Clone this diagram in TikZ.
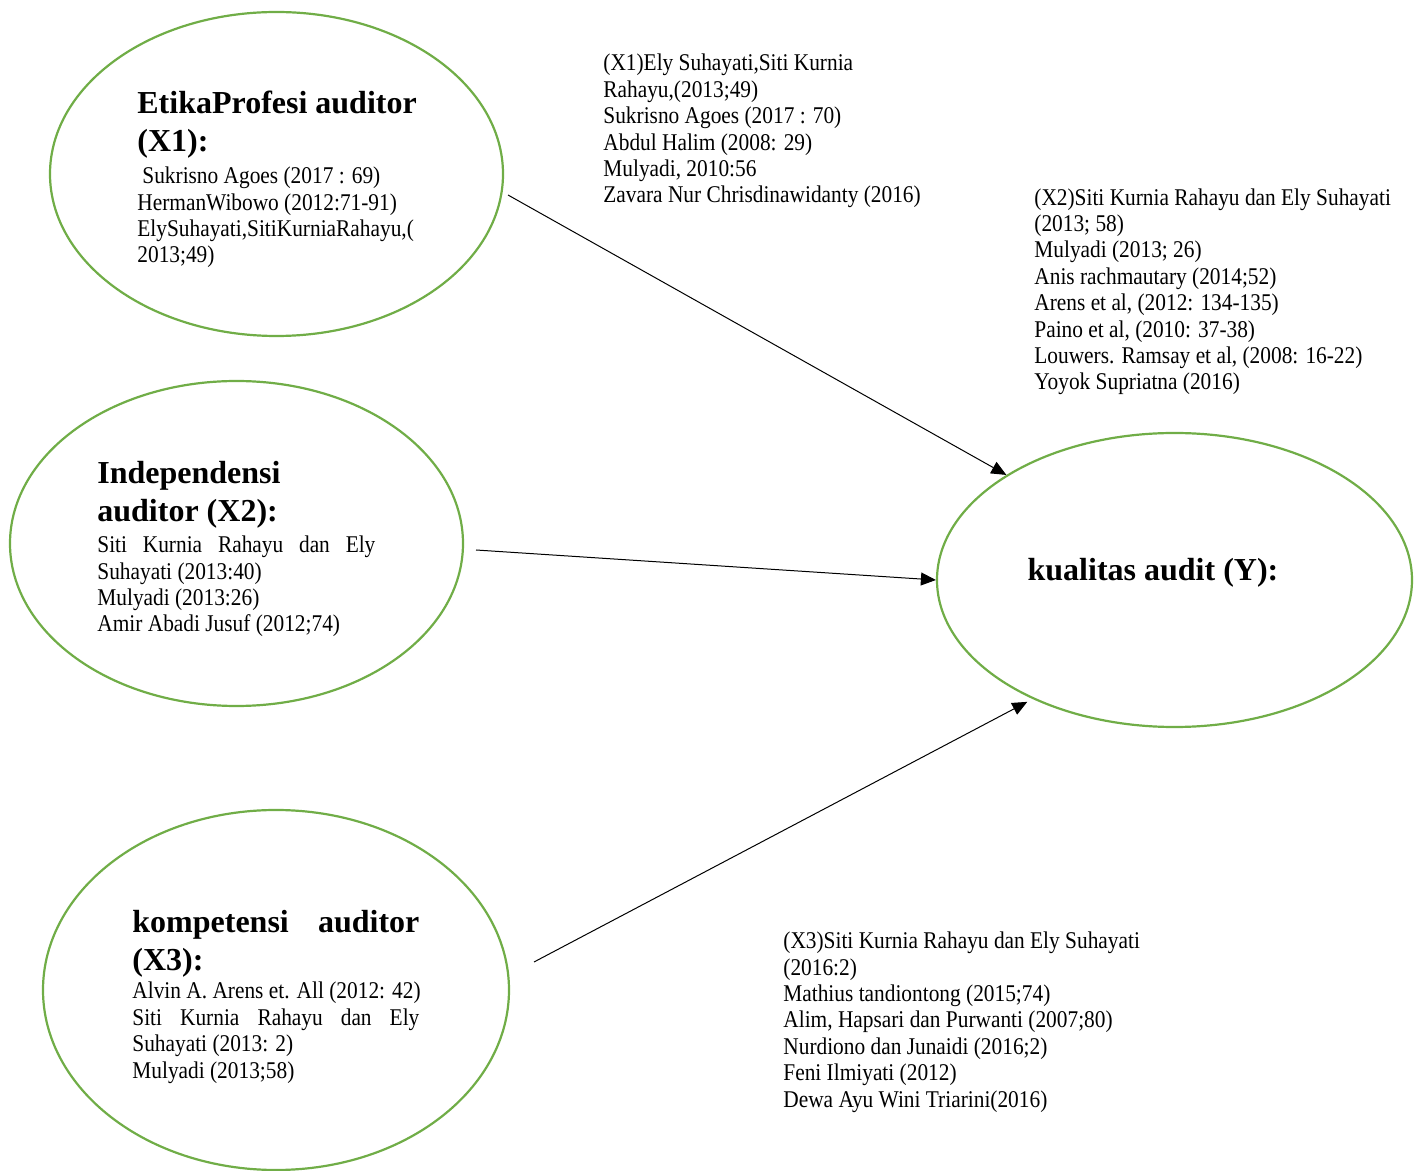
\documentclass[tikz,border=0pt]{standalone}
\usepackage{fontspec}
\setmainfont{Liberation Serif}
\newfontfamily\condfont[FakeStretch=0.89]{Liberation Serif}
\usepackage{tikz}
\usetikzlibrary{shapes.geometric,arrows.meta}
\definecolor{vargreen}{RGB}{112,173,71}

\begin{document}
\begin{tikzpicture}[x=0.5pt,y=0.5pt,yscale=-1,xscale=1,
  variabel/.style={ellipse,draw=vargreen,line width=1.1pt,inner sep=0pt},
  judul/.style={anchor=base west,inner sep=0pt,align=left,font=\fontsize{16}{19}\selectfont\bfseries},
  isi/.style={anchor=base west,inner sep=0pt,align=left,font=\fontsize{12}{13.2}\selectfont\condfont},
  panah/.style={-{Triangle[length=7.5pt,width=6.5pt]},line width=0.5pt}]
%set diagram to the size of the page
\useasboundingbox (0,0) rectangle (1421,1171);

%Shape: Ellipse X1
\node[variabel,minimum width=226.5pt,minimum height=162pt] (ex1) at (276.5,174) {};
%Shape: Ellipse X2
\node[variabel,minimum width=226.5pt,minimum height=162.5pt] (ex2) at (236.5,543.5) {};
%Shape: Ellipse X3
\node[variabel,minimum width=233pt,minimum height=180pt] (ex3) at (276,990) {};
%Shape: Ellipse Y
\node[variabel,minimum width=237.5pt,minimum height=147pt] (ey) at (1174.5,580) {};

%Straight Lines
\coordinate (s1) at (508,195);
\coordinate (s2) at (476,550);
\coordinate (s3) at (534,962);
\draw[panah] (s1) -- (ey.148.2);
\draw[panah] (s2) -- (ey.west);
\draw[panah,shorten >=3pt] (s3) -- (ey.220.1);

% Text Node (anchored at the baseline of the last line)
\node[judul] (jx1) at (137,152) {EtikaProfesi auditor\\(X1):};
% Text Node
\node[isi] (ix1) at (137,263) {\hspace*{2.5pt}Sukrisno Agoes (2017 : 69)\\HermanWibowo (2012:71-91)\\ElySuhayati,SitiKurniaRahayu,(\\2013;49)};
% Text Node
\node[judul] (jx2) at (97,522) {Independensi\\auditor (X2):};
% Text Node
\node[isi] (ix2) at (97,632) {\makebox[139pt][s]{Siti Kurnia Rahayu dan Ely}\\Suhayati (2013:40)\\Mulyadi (2013:26)\\Amir Abadi Jusuf (2012;74)};
% Text Node
\node[judul] (jx3) at (132,971) {\makebox[143.5pt][s]{kompetensi auditor}\\(X3):};
% Text Node
\node[isi] (ix3) at (132,1078) {Alvin A. Arens et. All (2012: 42)\\\makebox[143.5pt][s]{Siti Kurnia Rahayu dan Ely}\\Suhayati (2013: 2)\\Mulyadi (2013;58)};
% Text Node
\node[anchor=base,inner sep=0pt,font=\fontsize{16}{19}\selectfont\bfseries] (jy) at (1153,581) {kualitas audit (Y):};

% Text Node
\node[isi] (rx1) at (603,203) {(X1)Ely Suhayati,Siti Kurnia\\Rahayu,(2013;49)\\Sukrisno Agoes (2017 : 70)\\Abdul Halim (2008: 29)\\Mulyadi, 2010:56\\Zavara Nur Chrisdinawidanty (2016)};
% Text Node
\node[isi] (rx2) at (1034,390) {(X2)Siti Kurnia Rahayu dan Ely Suhayati\\(2013; 58)\\Mulyadi (2013; 26)\\Anis rachmautary (2014;52)\\Arens et al, (2012: 134-135)\\Paino et al, (2010: 37-38)\\Louwers. Ramsay et al, (2008: 16-22)\\Yoyok Supriatna (2016)};
% Text Node
\node[isi] (rx3) at (783,1107) {(X3)Siti Kurnia Rahayu dan Ely Suhayati\\(2016:2)\\Mathius tandiontong (2015;74)\\Alim, Hapsari dan Purwanti (2007;80)\\Nurdiono dan Junaidi (2016;2)\\Feni Ilmiyati (2012)\\Dewa Ayu Wini Triarini(2016)};

\end{tikzpicture}
\end{document}
